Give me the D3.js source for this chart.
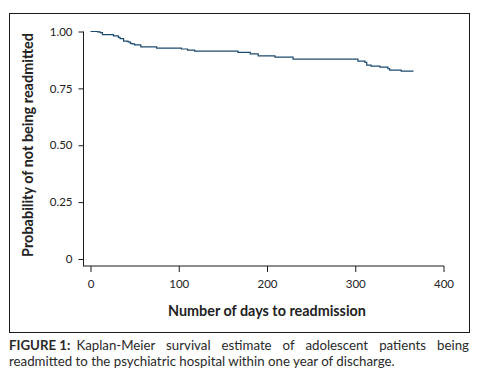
<!DOCTYPE html>
<html>
<head>
<meta charset="utf-8">
<script src="https://cdn.jsdelivr.net/npm/d3@7"></script>
<style>
  body { margin: 0; background: #fff; }
  svg { display: block; font-family: Lato, "Open Sans", sans-serif; }
</style>
</head>
<body>
<script>
// Kaplan-Meier curve, values
var days = [0, 8, 11, 13.5, 26, 31.5, 33.5, 37.5, 42.5, 45, 47, 50, 57, 75,
            103, 110, 118, 167, 181, 190, 209, 229.5, 303, 311, 313, 318,
            328, 337, 339, 352, 366];
var survival = [1, 0.998, 0.995, 0.986, 0.981, 0.974, 0.969, 0.958, 0.954,
                0.948, 0.946, 0.941, 0.932, 0.927, 0.923, 0.918, 0.914, 0.908,
                0.902, 0.893, 0.887, 0.879, 0.870, 0.864, 0.852, 0.848, 0.843,
                0.837, 0.830, 0.826, 0.826];

var xTicks = [0, 100, 200, 300, 400];
var yTicks = [0, 0.25, 0.5, 0.75, 1];
var yTickLabels = ["0", "0.25", "0.50", "0.75", "1.00"];

var xTitle = "Number of days to readmission";
var yTitle = "Probability of not being readmitted";
var captionLead = "FIGURE 1:";
var captionLine1 = "Kaplan-Meier survival estimate of adolescent patients being";
var captionLine2 = "readmitted to the psychiatric hospital within one year of discharge.";

var W = 482, H = 380;
var axisX = 83.5, axisY = 266;   // offset axis lines (stata style)

var svg = d3.select("body").append("svg")
    .attr("width", W)
    .attr("height", H);

// frame round the plot
svg.append("rect")
    .attr("x", 9.5).attr("y", 13.5)
    .attr("width", 460).attr("height", 319)
    .attr("fill", "none")
    .attr("stroke", "#1a1a1a")
    .attr("stroke-width", 1);

var x = d3.scaleLinear().domain([0, 400]).range([90.5, 443.5]);
var y = d3.scaleLinear().domain([0, 1]).range([259, 31.5]);

// y axis
var yAxis = svg.append("g")
    .attr("transform", "translate(" + axisX + ",0)")
    .call(d3.axisLeft(y)
      .tickValues(yTicks)
      .tickSize(5)
      .tickPadding(6)
      .tickFormat(function(d, i) { return yTickLabels[i]; }));
yAxis.select(".domain").remove();
yAxis.append("line")
    .attr("y1", y(1)).attr("y2", axisY + 0.5)
    .attr("stroke", "#1a1a1a");

// x axis
var xAxis = svg.append("g")
    .attr("transform", "translate(0," + axisY + ")")
    .call(d3.axisBottom(x)
      .tickValues(xTicks)
      .tickSize(6)
      .tickPadding(8));
xAxis.select(".domain").remove();
xAxis.append("line")
    .attr("x1", axisX).attr("x2", x(400) + 0.5)
    .attr("stroke", "#1a1a1a");

svg.selectAll(".tick line").attr("stroke", "#1a1a1a");
svg.selectAll(".tick text")
    .attr("fill", "#222")
    .style("font-family", "Lato, 'Open Sans', sans-serif")
    .style("font-size", "11.5px");

// the curve
var line = d3.line()
    .x(function(d) { return x(d[0]); })
    .y(function(d) { return y(d[1]); })
    .curve(d3.curveStepAfter);

svg.append("path")
    .datum(d3.zip(days, survival))
    .attr("d", line)
    .attr("fill", "none")
    .attr("stroke", "#1b4a6f")
    .attr("stroke-width", 1.2);

// squeeze a text to a given width by its font size
function fitText(sel, width) {
  var w = sel.node().getComputedTextLength();
  var fs = parseFloat(sel.style("font-size"));
  sel.style("font-size", (fs * width / w) + "px");
}

var xt = svg.append("text")
    .attr("x", (x(0) + x(400)) / 2)
    .attr("y", 316)
    .attr("text-anchor", "middle")
    .attr("font-weight", "bold")
    .attr("fill", "#222")
    .style("font-size", "13px")
    .text(xTitle);
fitText(xt, 198);

var yt = svg.append("text")
    .attr("transform", "translate(32.5,145) rotate(-90)")
    .attr("text-anchor", "middle")
    .attr("font-weight", "bold")
    .attr("fill", "#222")
    .style("font-size", "13px")
    .text(yTitle);
fitText(yt, 224);

// caption: second line sets the size, first line is justified
var cap2 = svg.append("text")
    .attr("x", 9)
    .attr("y", 365.5)
    .attr("fill", "#2a2a2a")
    .style("font-size", "12px")
    .text(captionLine2);
fitText(cap2, 386);
var capSize = cap2.style("font-size");

var lead = svg.append("text")
    .attr("x", 9)
    .attr("y", 350)
    .attr("font-weight", "bold")
    .attr("fill", "#2a2a2a")
    .style("font-size", capSize)
    .text(captionLead);

var leadEnd = 9 + lead.node().getComputedTextLength() + 6;
var cap1 = svg.append("text")
    .attr("x", leadEnd)
    .attr("y", 350)
    .attr("fill", "#2a2a2a")
    .style("font-size", capSize)
    .text(captionLine1);

var gaps = captionLine1.split(" ").length - 1;
var extra = (469 - leadEnd - cap1.node().getComputedTextLength()) / gaps;
cap1.attr("word-spacing", extra);
</script>
</body>
</html>
